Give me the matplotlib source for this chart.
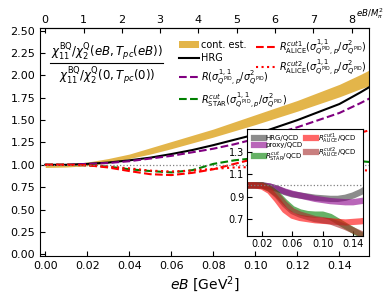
import numpy as np
import matplotlib
matplotlib.use("Agg")
import matplotlib.pyplot as plt

# 主圖資料 (eB in GeV^2)
eB = [0.0, 0.01, 0.02, 0.03, 0.04, 0.05, 0.06, 0.07, 0.08, 0.09, 0.10, 0.11, 0.12, 0.13, 0.14, 0.15, 0.155]
cont_lo = [0.97, 0.975, 0.99, 1.02, 1.07, 1.12, 1.18, 1.245, 1.31, 1.38, 1.45, 1.525, 1.60, 1.68, 1.76, 1.85, 1.89]
cont_hi = [1.00, 1.01, 1.03, 1.07, 1.12, 1.19, 1.26, 1.33, 1.40, 1.48, 1.56, 1.64, 1.72, 1.81, 1.90, 2.01, 2.07]
hrg = [1.0, 1.0, 1.01, 1.025, 1.05, 1.08, 1.12, 1.165, 1.22, 1.28, 1.34, 1.42, 1.50, 1.59, 1.68, 1.81, 1.88]
proxy = [1.0, 1.0, 1.01, 1.02, 1.04, 1.07, 1.10, 1.14, 1.18, 1.23, 1.29, 1.35, 1.42, 1.50, 1.58, 1.69, 1.75]
star = [1.0, 1.0, 0.995, 0.98, 0.95, 0.93, 0.915, 0.94, 1.01, 1.05, 1.075, 1.09, 1.09, 1.085, 1.065, 1.04, 1.03]
alice1 = [1.0, 1.0, 0.995, 0.97, 0.93, 0.895, 0.885, 0.91, 0.95, 1.01, 1.07, 1.14, 1.20, 1.25, 1.30, 1.36, 1.39]
alice2 = [1.0, 1.0, 0.995, 0.98, 0.96, 0.935, 0.925, 0.935, 0.955, 0.97, 0.975, 0.978, 0.975, 0.965, 0.955, 0.94, 0.935]

# inset 資料 (ratio / QCD)
r_hrg = [1.0, 1.0, 1.0, 0.99, 0.97, 0.94, 0.92, 0.91, 0.90, 0.89, 0.885, 0.88, 0.88, 0.89, 0.91, 0.94, 0.96]
r_proxy = [1.0, 1.0, 1.0, 0.99, 0.97, 0.945, 0.925, 0.91, 0.895, 0.88, 0.87, 0.86, 0.855, 0.85, 0.85, 0.86, 0.865]
r_star = [1.0, 1.0, 1.0, 0.97, 0.92, 0.85, 0.79, 0.76, 0.745, 0.74, 0.74, 0.72, 0.68, 0.64, 0.60, 0.56, 0.54]
r_alice1 = [1.0, 1.0, 0.99, 0.95, 0.87, 0.78, 0.73, 0.71, 0.70, 0.69, 0.685, 0.68, 0.675, 0.67, 0.675, 0.68, 0.685]
r_alice2 = [1.0, 1.0, 1.0, 0.97, 0.91, 0.83, 0.77, 0.74, 0.72, 0.70, 0.69, 0.68, 0.655, 0.63, 0.60, 0.57, 0.555]

mpi2 = 0.135 ** 2
sig = r'(\sigma^{1,1}_{Q^{\rm PID},p}/\sigma^2_{Q^{\rm PID}})'

fig = plt.figure(figsize=(3.92, 3.01), dpi=100)
ax = fig.add_axes([0.102, 0.1495, 0.839, 0.7575])

h1 = ax.fill_between(eB, cont_lo, cont_hi, color='#e3b54a', lw=0, label='cont. est.')
h2, = ax.plot(eB, hrg, color='k', lw=1.5, label='HRG')
h3, = ax.plot(eB, proxy, color='purple', lw=1.5, ls='--', label=r'$R' + sig + '$')
h4, = ax.plot(eB, star, color='green', lw=1.5, ls='--', label=r'$R^{cut}_{\rm STAR}' + sig + '$')
h5, = ax.plot(eB, alice1, color='red', lw=1.5, ls='--', label=r'$R^{cut1}_{\rm ALICE}' + sig + '$')
h6, = ax.plot(eB, alice2, color='red', lw=1.5, ls=':', label=r'$R^{cut2}_{\rm ALICE}' + sig + '$')
ax.axhline(1.0, color='gray', lw=0.9, ls=':')

ax.set_xlim(-0.0025, 0.154)
ax.set_ylim(-0.02, 2.53)
ax.set_xticks(np.arange(0, 0.141, 0.02))
ax.set_yticks(np.arange(0, 2.51, 0.25))
ax.tick_params(direction='in', labelsize=8, top=False)
ax.set_xlabel(r'$eB$ [GeV$^2$]', fontsize=10, labelpad=2)

secax = ax.secondary_xaxis('top', functions=(lambda x: x / mpi2, lambda x: x * mpi2))
secax.set_xticks(range(0, 9))
secax.tick_params(direction='in', labelsize=8, pad=2)
fig.text(356 / 392, 1 - 14 / 301, r'$eB/M_\pi^2$', fontsize=6.2, va='center', ha='left')

# 分數標籤: 分子 / 分母 / 分數線
ax.text(0.204, 0.893, r'$\chi^{\rm BQ}_{11}/\chi^{\rm Q}_{2}(eB,T_{pc}(eB))$',
        transform=ax.transAxes, fontsize=8.5, ha='center', va='center')
ax.text(0.204, 0.790, r'$\chi^{\rm BQ}_{11}/\chi^{\rm Q}_{2}(0,T_{pc}(0))$',
        transform=ax.transAxes, fontsize=8.5, ha='center', va='center')
ax.plot([0.030, 0.374], [0.846, 0.846], color='k', lw=0.8, transform=ax.transAxes)

leg1 = ax.legend(handles=[h1, h2, h3, h4], loc='upper left', bbox_to_anchor=(0.42, 0.953),
                 frameon=False, fontsize=7, handlelength=2.0, labelspacing=0.38,
                 handletextpad=0.3, borderaxespad=0, borderpad=0.1)
ax.add_artist(leg1)
ax.legend(handles=[h5, h6], loc='upper left', bbox_to_anchor=(0.655, 0.965),
          frameon=False, fontsize=7, handlelength=2.0, labelspacing=0.15,
          handletextpad=0.3, borderaxespad=0, borderpad=0.1)

# inset
ins = fig.add_axes([0.630, 0.216, 0.296, 0.355])
ins.plot(eB, r_hrg, color='gray', lw=4.5, alpha=0.9, label='HRG/QCD')
ins.plot(eB, r_proxy, color='darkmagenta', lw=4.5, alpha=0.6, label='proxy/QCD')
ins.plot(eB, r_star, color='green', lw=4.5, alpha=0.6, label=r'$R^{cut}_{\rm STAR}$/QCD')
ins.plot(eB, r_alice1, color='red', lw=4.5, alpha=0.6, label=r'$R^{cut1}_{\rm ALICE}$/QCD')
ins.plot(eB, r_alice2, color='brown', lw=4.5, alpha=0.6, label=r'$R^{cut2}_{\rm ALICE}$/QCD')
ins.axhline(1.0, color='gray', lw=0.9, ls=':')
ins.set_xlim(0.0, 0.153)
ins.set_ylim(0.55, 1.5)
ins.set_xticks([0.02, 0.06, 0.10, 0.14])
ins.set_yticks([0.7, 0.9, 1.1, 1.3])
ins.tick_params(direction='in', labelsize=7, pad=2)
ins.legend(ncol=2, loc='upper center', frameon=False, fontsize=5, handlelength=1.5,
           columnspacing=0.4, labelspacing=0.15, handletextpad=0.2, borderaxespad=0.1, borderpad=0.2)

fig.savefig('out.png', dpi=100)
